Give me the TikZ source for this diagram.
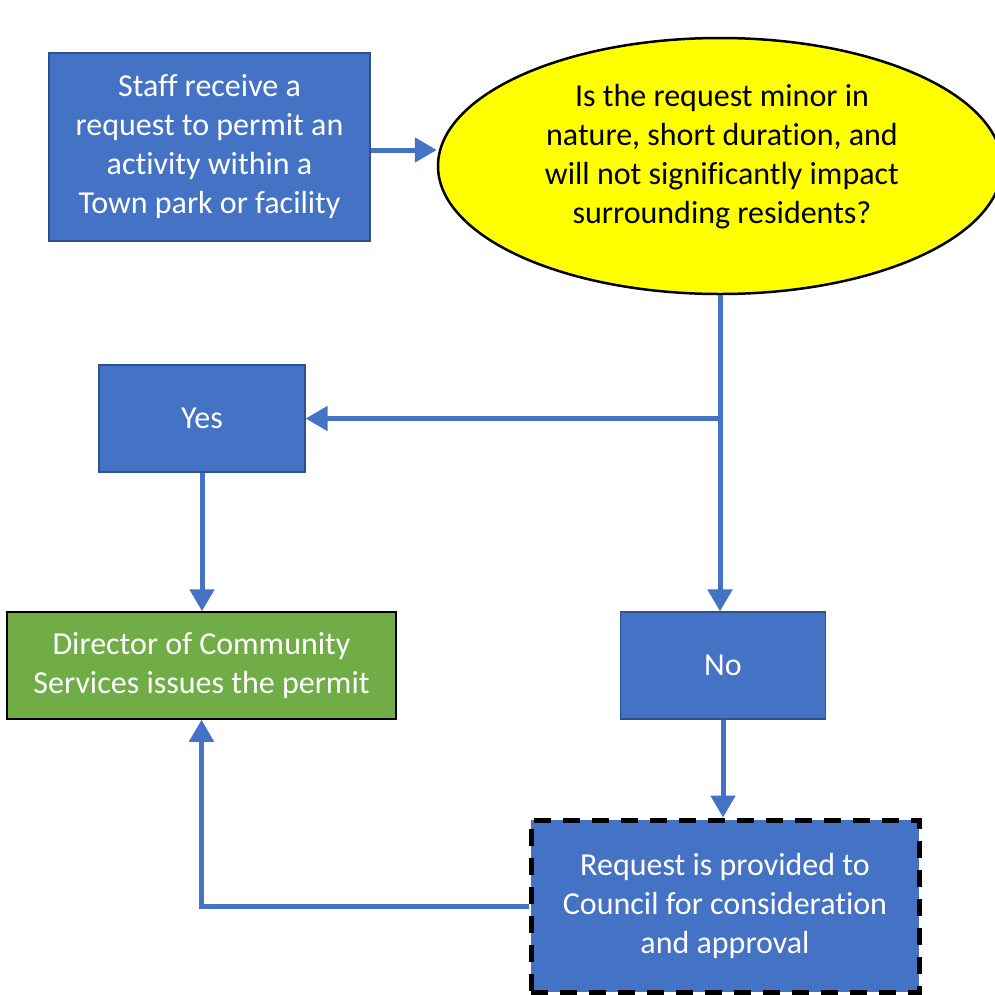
\documentclass[tikz,border=0pt]{standalone}
\usepackage{fontspec}
\setmainfont{Carlito}[RawFeature={-liga;-clig;-calt}]
\usetikzlibrary{arrows.meta,shapes.geometric}
\definecolor{boxblue}{HTML}{4472C4}
\definecolor{edgeblue}{HTML}{2F528F}
\definecolor{boxgreen}{HTML}{70AD47}
\definecolor{askyellow}{HTML}{FFFF00}
\begin{document}
\begin{tikzpicture}[x=1pt,y=1pt,font=\fontsize{32}{39}\selectfont,
  >={Triangle[length=22pt,width=24pt]},
  stepbox/.style={draw=edgeblue,line width=1.2pt,fill=boxblue,text=white,align=center,inner sep=0pt},
  flow/.style={draw=boxblue,line width=5pt}]
  \useasboundingbox (0,0) rectangle (995,-994);
  % boxes and question
  \node[stepbox,minimum width=321,minimum height=188] (staff) at (209.5,-147)
    {Staff receive a\\request to permit an\\activity within a\\Town park or facility};
  \node[ellipse,draw=black,line width=2.5pt,fill=askyellow,minimum width=564,minimum height=256] (ask) at (720,-166) {};
  \node[align=center] (asktext) at (722,-157)
    {Is the request minor in\\nature, short duration, and\\will not significantly impact\\surrounding residents?};
  \node[stepbox,minimum width=206,minimum height=107] (yes) at (202,-418.5) {Yes};
  \node[stepbox,minimum width=205,minimum height=107] (no) at (723,-665.5) {No};
  \node[stepbox,draw=black,line width=1.5pt,fill=boxgreen,minimum width=389,minimum height=107] (dir) at (201.5,-665.5)
    {Director of Community\\Services issues the permit};
  \node[stepbox,draw=black,line width=5pt,dash pattern=on 17pt off 12pt,minimum width=388,minimum height=172] (req) at (725,-906)
    {Request is provided to\\Council for consideration\\and approval};
  \coordinate (split) at (ask.south |- yes.east);
  % connectors
  \draw[flow,->] ([yshift=-3pt]staff.east) -- ([yshift=-3pt]staff.east -| ask.west);
  \draw[flow,->] (ask.south) -- (ask.south |- no.north);
  \draw[flow,->] (split) -- (yes.east);
  \draw[flow,->] (yes.south) -- (dir.north -| yes.south);
  \draw[flow,->] (no.south) -- (req.north -| no.south);
  \draw[flow,->] (req.west) -| (dir.south);
\end{tikzpicture}
\end{document}
